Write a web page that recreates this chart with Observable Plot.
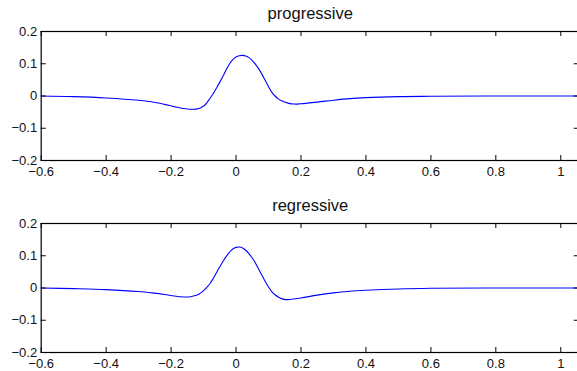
<!DOCTYPE html>
<html>
<head>
<meta charset="utf-8">
<script src="https://cdn.jsdelivr.net/npm/d3@7"></script>
<script src="https://cdn.jsdelivr.net/npm/@observablehq/plot@0.6"></script>
<style>
  html, body { margin: 0; padding: 0; background: #fff; overflow: hidden; }
  #wrap { width: 577px; height: 371px; overflow: hidden; }
  #wrap svg { display: block; max-width: none !important; }
</style>
</head>
<body>
<div id="wrap"></div>
<script>
// ---- data ----
const titles = ["progressive", "regressive"];

const progX = [-0.6, -0.5, -0.4, -0.3, -0.26, -0.22, -0.19, -0.16, -0.14, -0.13, -0.12, -0.11, -0.10, -0.09, -0.08, -0.07, -0.06, -0.05, -0.04, -0.03, -0.02, -0.01, 0.0, 0.01, 0.02, 0.03, 0.04, 0.05, 0.06, 0.07, 0.08, 0.09, 0.10, 0.11, 0.12, 0.13, 0.14, 0.16, 0.18, 0.20, 0.25, 0.30, 0.35, 0.40, 0.50, 0.60, 0.80, 1.06];
const progY = [0.0, -0.002, -0.006, -0.013, -0.018, -0.026, -0.033, -0.039, -0.041, -0.041, -0.040, -0.037, -0.031, -0.021, -0.007, 0.008, 0.025, 0.043, 0.062, 0.082, 0.100, 0.113, 0.121, 0.125, 0.126, 0.124, 0.119, 0.110, 0.098, 0.084, 0.067, 0.048, 0.029, 0.012, 0.000, -0.009, -0.015, -0.022, -0.025, -0.024, -0.019, -0.013, -0.008, -0.005, -0.002, -0.001, 0.0, 0.0];

const regX = [-0.6, -0.5, -0.4, -0.3, -0.26, -0.22, -0.19, -0.16, -0.15, -0.14, -0.12, -0.11, -0.10, -0.09, -0.08, -0.07, -0.06, -0.05, -0.04, -0.03, -0.02, -0.01, 0.0, 0.01, 0.02, 0.03, 0.04, 0.05, 0.06, 0.07, 0.08, 0.09, 0.10, 0.11, 0.12, 0.13, 0.14, 0.155, 0.17, 0.20, 0.25, 0.30, 0.35, 0.40, 0.50, 0.60, 0.80, 1.06];
const regY = [0.0, -0.002, -0.005, -0.011, -0.015, -0.020, -0.025, -0.028, -0.028, -0.027, -0.022, -0.016, -0.008, 0.002, 0.014, 0.030, 0.048, 0.066, 0.083, 0.098, 0.111, 0.121, 0.126, 0.127, 0.124, 0.117, 0.106, 0.093, 0.077, 0.058, 0.039, 0.020, 0.003, -0.011, -0.021, -0.028, -0.033, -0.036, -0.035, -0.031, -0.022, -0.015, -0.010, -0.007, -0.003, -0.001, 0.0, 0.0];

const xTicks = [-0.6, -0.4, -0.2, 0, 0.2, 0.4, 0.6, 0.8, 1];
const xTickLabels = ["\u22120.6", "\u22120.4", "\u22120.2", "0", "0.2", "0.4", "0.6", "0.8", "1"];
const yTicks = [-0.2, -0.1, 0, 0.1, 0.2];
const yTickLabels = ["\u22120.2", "\u22120.1", "0", "0.1", "0.2"];
const xDomain = [-0.6, 1.057];
const yDomain = [-0.2, 0.2];

// ---- layout ----
const W = 580, H = 192, mL = 40.7, mR = 1.2, mT = 31, mB = 32;
const frameW = W - mL - mR, frameH = H - mT - mB, tickLen = 5;
// tick lengths in data units (derived from the scales' extents)
const dyTick = tickLen * (yDomain[1] - yDomain[0]) / frameH;
const dxTick = tickLen * (xDomain[1] - xDomain[0]) / frameW;

function panel(title, xs, ys) {
  const data = xs.map((x, i) => ({x, y: ys[i]}));
  return Plot.plot({
    width: W, height: H,
    marginLeft: mL, marginRight: mR, marginTop: mT, marginBottom: mB,
    style: {fontFamily: "'Liberation Sans', Arial, Helvetica, sans-serif", fontSize: "13px", color: "#111", background: "#fff", maxWidth: "none"},
    x: {domain: xDomain, axis: null},
    y: {domain: yDomain, axis: null},
    marks: [
      Plot.line(data, {x: "x", y: "y", stroke: "#0000ff", strokeWidth: 1.1, curve: "catmull-rom"}),
      // inward ticks bottom & top
      Plot.ruleX(xTicks, {x: d => d, y1: yDomain[0], y2: yDomain[0] + dyTick, stroke: "#000"}),
      Plot.ruleX(xTicks, {x: d => d, y1: yDomain[1] - dyTick, y2: yDomain[1], stroke: "#000"}),
      // inward ticks left & right
      Plot.ruleY(yTicks, {y: d => d, x1: xDomain[0], x2: xDomain[0] + dxTick, stroke: "#000"}),
      Plot.ruleY(yTicks, {y: d => d, x1: xDomain[1] - dxTick, x2: xDomain[1], stroke: "#000"}),
      Plot.frame({stroke: "#000", strokeWidth: 1.2}),
      Plot.axisX(xTicks, {tickSize: 0, tickPadding: 6.5, label: null, tickFormat: (d, i) => xTickLabels[i], fill: "#111"}),
      Plot.axisY(yTicks, {tickSize: 0, tickPadding: 4, label: null, tickFormat: (d, i) => yTickLabels[i], fill: "#111"}),
      Plot.text([title], {text: d => d, frameAnchor: "top", dy: -24, fontSize: 16.5, fill: "#111"})
    ]
  });
}

const wrap = document.getElementById("wrap");
wrap.appendChild(panel(titles[0], progX, progY));
wrap.appendChild(panel(titles[1], regX, regY));
</script>
</body>
</html>
